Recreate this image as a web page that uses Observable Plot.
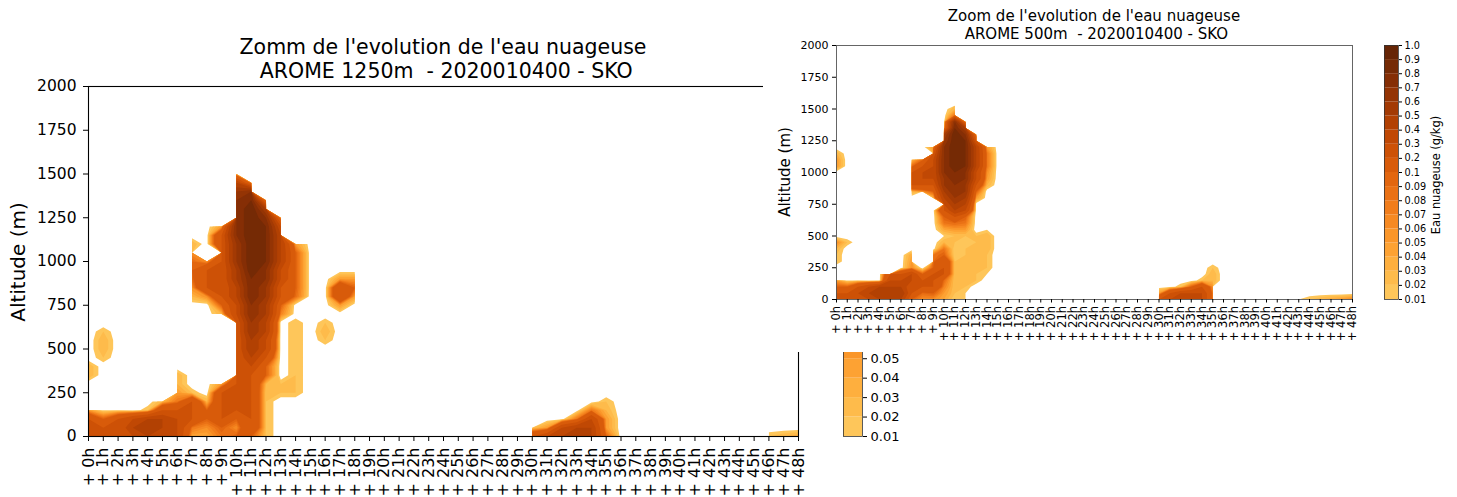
<!DOCTYPE html>
<html>
<head>
<meta charset="utf-8">
<script src="https://cdn.jsdelivr.net/npm/d3@7"></script>
<script src="https://cdn.jsdelivr.net/npm/@observablehq/plot@0.6"></script>
<style>
  html, body { margin: 0; padding: 0; background: #fff; }
  #page { position: relative; width: 1457px; height: 497px; overflow: hidden; background: #fff; font-family: "DejaVu Sans", sans-serif; color: #000; }
  .abs { position: absolute; }
  svg { max-width: none !important; }
  .ttl { position: absolute; text-align: center; white-space: pre; }
  .vlab { position: absolute; white-space: pre; transform: translate(-50%, -50%) rotate(-90deg); }
  #overlay { position: absolute; left: 763px; top: 0; width: 694px; height: 352px; background: #fff; overflow: hidden; }
</style>
</head>
<body>
<div id="page">
  <div id="leftPlot" class="abs" style="left:0;top:0"></div>
  <div id="leftBar" class="abs" style="left:843px;top:0"></div>
  <div id="leftTitle" class="ttl" style="left:88px;top:35px;width:710px;font-size:20.5px;line-height:24px"></div>
  <div class="vlab" style="left:18px;top:262px;font-size:20px">Altitude (m)</div>
  <div class="vlab" style="left:918px;top:261px;font-size:14px">Eau nuageuse (g/kg)</div>
  <div id="overlay">
    <div id="rightPlot" class="abs" style="left:0;top:0"></div>
    <div id="rightBar" class="abs" style="left:621px;top:0"></div>
    <div id="rightTitle" class="ttl" style="left:73px;top:8px;width:516px;font-size:15px;line-height:17.5px"></div>
    <div class="vlab" style="left:22px;top:172px;font-size:15px">Altitude (m)</div>
    <div class="vlab" style="left:673px;top:175px;font-size:11.4px">Eau nuageuse (g/kg)</div>
  </div>
</div>
<script>
// ---------------- data ----------------
const titleLeft = "Zomm de l'evolution de l'eau nuageuse\n AROME 1250m  - 2020010400 - SKO";
const titleRight = "Zoom de l'evolution de l'eau nuageuse\n AROME 500m  - 2020010400 - SKO";

const hourLabels = ["+ 0h","+ 1h","+ 2h","+ 3h","+ 4h","+ 5h","+ 6h","+ 7h","+ 8h","+ 9h",
  "+ 10h","+ 11h","+ 12h","+ 13h","+ 14h","+ 15h","+ 16h","+ 17h","+ 18h","+ 19h",
  "+ 20h","+ 21h","+ 22h","+ 23h","+ 24h","+ 25h","+ 26h","+ 27h","+ 28h","+ 29h",
  "+ 30h","+ 31h","+ 32h","+ 33h","+ 34h","+ 35h","+ 36h","+ 37h","+ 38h","+ 39h",
  "+ 40h","+ 41h","+ 42h","+ 43h","+ 44h","+ 45h","+ 46h","+ 47h","+ 48h"];

// altitude of each profile level (m)
const altitudes = [0,50,100,150,200,250,300,350,400,450,500,550,600,650,700,750,
  800,850,900,950,1000,1050,1100,1150,1200,1250,1300,1350,1400,1450,1500];

const altTicks = [0,250,500,750,1000,1250,1500,1750,2000];

// contour levels (g/kg) and colorbar labels
const levels = [0.01,0.02,0.03,0.04,0.05,0.06,0.07,0.08,0.09,0.1,0.2,0.3,0.4,0.5,0.6,0.7,0.8,0.9,1.0];
const levelLabels = ["0.01","0.02","0.03","0.04","0.05","0.06","0.07","0.08","0.09",
  "0.1","0.2","0.3","0.4","0.5","0.6","0.7","0.8","0.9","1.0"];

// value codes used in the profiles: "." = no cloud (masked), "0" = 0,
// "1".."9" = 0.01..0.09, "a".."j" = 0.1..1.0
const codeValue = {".": -100, "0": 0,
  "1": 0.01, "2": 0.02, "3": 0.03, "4": 0.04, "5": 0.05, "6": 0.06, "7": 0.07, "8": 0.08, "9": 0.09,
  "a": 0.1, "b": 0.2, "c": 0.3, "d": 0.4, "e": 0.5, "f": 0.6, "g": 0.7, "h": 0.8, "i": 0.9, "j": 1.0};

// one profile per forecast hour, levels from 0 m upward (groups of 5 levels separated by |)
const cloud1250 = [
  "bbb5.|00330",                                   // +0h
  "bba10|00002|332",                               // +1h
  "bbb1",                                          // +2h
  "cdc",                                           // +3h
  "ded2",                                          // +4h
  "cddb3|....",                                    // +5h
  "cccb8|53300|00000|0....|...",                   // +6h
  "48bbb|20000|00000|0369a|963",                   // +7h
  "46aa3|00000|00000|06bbb|6.",                    // +8h
  "8abbb|b5...|....3|abbbb|bbbb5|.....|.",         // +9h
  "a6abb|bbbbb|bbbbc|cddee|fffgg|gggfd|4",         // +10h
  "abbbb|bbbcd|eeffg|ghhhi|iiiii|iihg6|.",         // +11h
  "22222|23aab|ccdde|effgg|hhhhh|ge5..|.",         // +12h
  "00000|22000|00007|abbcc|ddddc|5....|.",         // +13h
  "00000|22222|22220|09aaa|aa5..|.....|.",         // +14h
  "",                                              // +15h
  "00000|00000|0232",                              // +16h
  "00000|00000|00000|5bb5",                        // +17h
  "00000|00000|00000|05a5",                        // +18h
  "00000|00000|00000|.....",                       // +19h
  "", "", "", "", "", "", "", "", "",              // +20h .. +28h
  "...",                                           // +29h
  "b2.",                                           // +30h
  "c5",                                            // +31h
  "dc",                                            // +32h
  "dd8",                                           // +33h
  "ddc8",                                          // +34h
  "a5532",                                         // +35h
  "", "", "", "", "", "", "", "", "",              // +36h .. +44h
  ".",                                             // +45h
  "2",                                             // +46h
  "3",                                             // +47h
  "4"                                              // +48h
];

const cloud500 = [
  "bba5.|02236|00000|00000|0553",                  // +0h
  "bba10|00002",                                   // +1h
  "bcb1",                                          // +2h
  "cdc",                                           // +3h
  "ded",                                           // +4h
  "dedcb|.",                                       // +5h
  "dedcb|00000|00000|00...|...",                   // +6h
  "abbcc|65400|00000|003bb|b93.",                  // +7h
  "69bba|0..00|00000|0.6bc|cb9.",                  // +8h
  "6abbb|a9800|00000|.3abc|cccb5|.....|.",         // +9h
  "4579b|bba83|148ab|cdeff|ggggg|fe3",             // +10h
  "12222|22112|259bd|efggh|hiiii|iihg8|3",         // +11h
  "11222|33221|258ac|deffg|ghhhh|hge4.|.",         // +12h
  "00022|22222|20000|05abc|cdddd|b4...|.",         // +13h
  "00001|22233|31000|00035|68885|.....|.",         // +14h
  "", "", "", "", "", "", "", "", "", "", "", "", "", "", // +15h .. +28h
  "..",                                            // +29h
  "b5",                                            // +30h
  "cb",                                            // +31h
  "cc2",                                           // +32h
  "cca",                                           // +33h
  "ccb2",                                          // +34h
  "88633|2",                                       // +35h
  "...",                                           // +36h
  "", "", "", "", "", "",                          // +37h .. +42h
  "1",                                             // +43h
  "2",                                             // +44h
  "3",                                             // +45h
  "4",                                             // +46h
  "5",                                             // +47h
  "7"                                              // +48h
];

// ---------------- build ----------------
document.getElementById("leftTitle").textContent = titleLeft;
document.getElementById("rightTitle").textContent = titleRight;

const nH = hourLabels.length, nA = altitudes.length;
function toGrid(profiles) {
  const cols = profiles.map(s => s.replace(/\|/g, "").padEnd(nA, "0"));
  if (cols.length !== nH) console.error("bad column count", cols.length);
  cols.forEach((c, i) => { if (c.length !== nA) console.error("bad profile", i, c.length); });
  const values = [];
  for (let r = 0; r < nA; r++) for (let h = 0; h < nH; h++) values.push(codeValue[cols[h][r]]);
  return values;
}

const dAlt = altitudes[1] - altitudes[0];
const gridOpts = {width: nH, height: nA, x1: -0.5, x2: nH - 0.5,
  y1: altitudes[0] - dAlt / 2, y2: altitudes[nA - 1] + dAlt / 2};

const bandLevels = levels.slice(0, levels.length - 1); // 18 bands
const colors = bandLevels.map((_, i) => d3.interpolateYlOrBr(0.36 + i * 0.64 / (bandLevels.length - 1)));
const colorScale = {type: "threshold", domain: levels.slice(1, levels.length - 1), range: colors};
const hourTicks = hourLabels.map((_, i) => i);
const baseStyle = {fontFamily: "DejaVu Sans", background: "transparent", color: "#000", overflow: "visible"};

function chart(grid, o) {
  return Plot.plot({
    width: o.width, height: o.height,
    marginLeft: o.ml, marginRight: o.mr, marginTop: o.mt, marginBottom: o.mb,
    style: baseStyle,
    x: {domain: [0, nH - 1]},
    y: {domain: [altTicks[0], altTicks[altTicks.length - 1]]},
    color: colorScale,
    marks: [
      Plot.contour(grid, {...gridOpts, fill: Plot.identity, thresholds: bandLevels, stroke: "none", clip: true}),
      Plot.frame({stroke: o.frame, strokeWidth: o.frameW}),
      Plot.axisY(altTicks, {tickSize: o.yTs, tickPadding: o.yTp, fontSize: o.yFs, tickFormat: d => String(d), label: null}),
      Plot.axisX(hourTicks, {tickSize: o.xTs, tickPadding: o.xTp, tickRotate: -90, fontSize: o.xFs, tickFormat: d => hourLabels[d], label: null})
    ]
  });
}

function colorbar(o) {
  const bands = bandLevels.map((v, i) => ({k: i, k1: i + 1, lo: v}));
  return Plot.plot({
    width: o.width, height: o.height,
    marginLeft: 0, marginRight: o.width - o.barW, marginTop: o.mt, marginBottom: o.mb,
    style: baseStyle,
    y: {domain: [0, bandLevels.length]},
    color: colorScale,
    marks: [
      Plot.rect(bands, {y1: "k", y2: "k1", fill: "lo"}),
      Plot.frame({stroke: "#333", strokeWidth: 0.8}),
      Plot.axisY(levelLabels.map((_, i) => i), {anchor: "right", tickSize: o.ts, tickPadding: o.tp, fontSize: o.fs, tickFormat: i => levelLabels[i], label: null})
    ]
  });
}

document.getElementById("leftPlot").append(chart(toGrid(cloud1250), {
  width: 830, height: 497, ml: 88, mr: 32, mt: 86, mb: 61, frame: "#000", frameW: 1.1,
  yTs: 5, yTp: 7, yFs: 15.5, xTs: 5, xTp: 6, xFs: 16
}));
document.getElementById("leftBar").append(colorbar({width: 70, barW: 19, height: 497, mt: 86, mb: 61, ts: 4, tp: 4, fs: 13}));

document.getElementById("rightPlot").append(chart(toGrid(cloud500), {
  width: 600, height: 352, ml: 73, mr: 11, mt: 45, mb: 53, frame: "#555", frameW: 0.9,
  yTs: 4, yTp: 4, yFs: 11, xTs: 3.5, xTp: 3, xFs: 11.5
}));
document.getElementById("rightBar").append(colorbar({width: 70, barW: 14, height: 352, mt: 45, mb: 53, ts: 3, tp: 3, fs: 9.7}));
</script>
</body>
</html>
